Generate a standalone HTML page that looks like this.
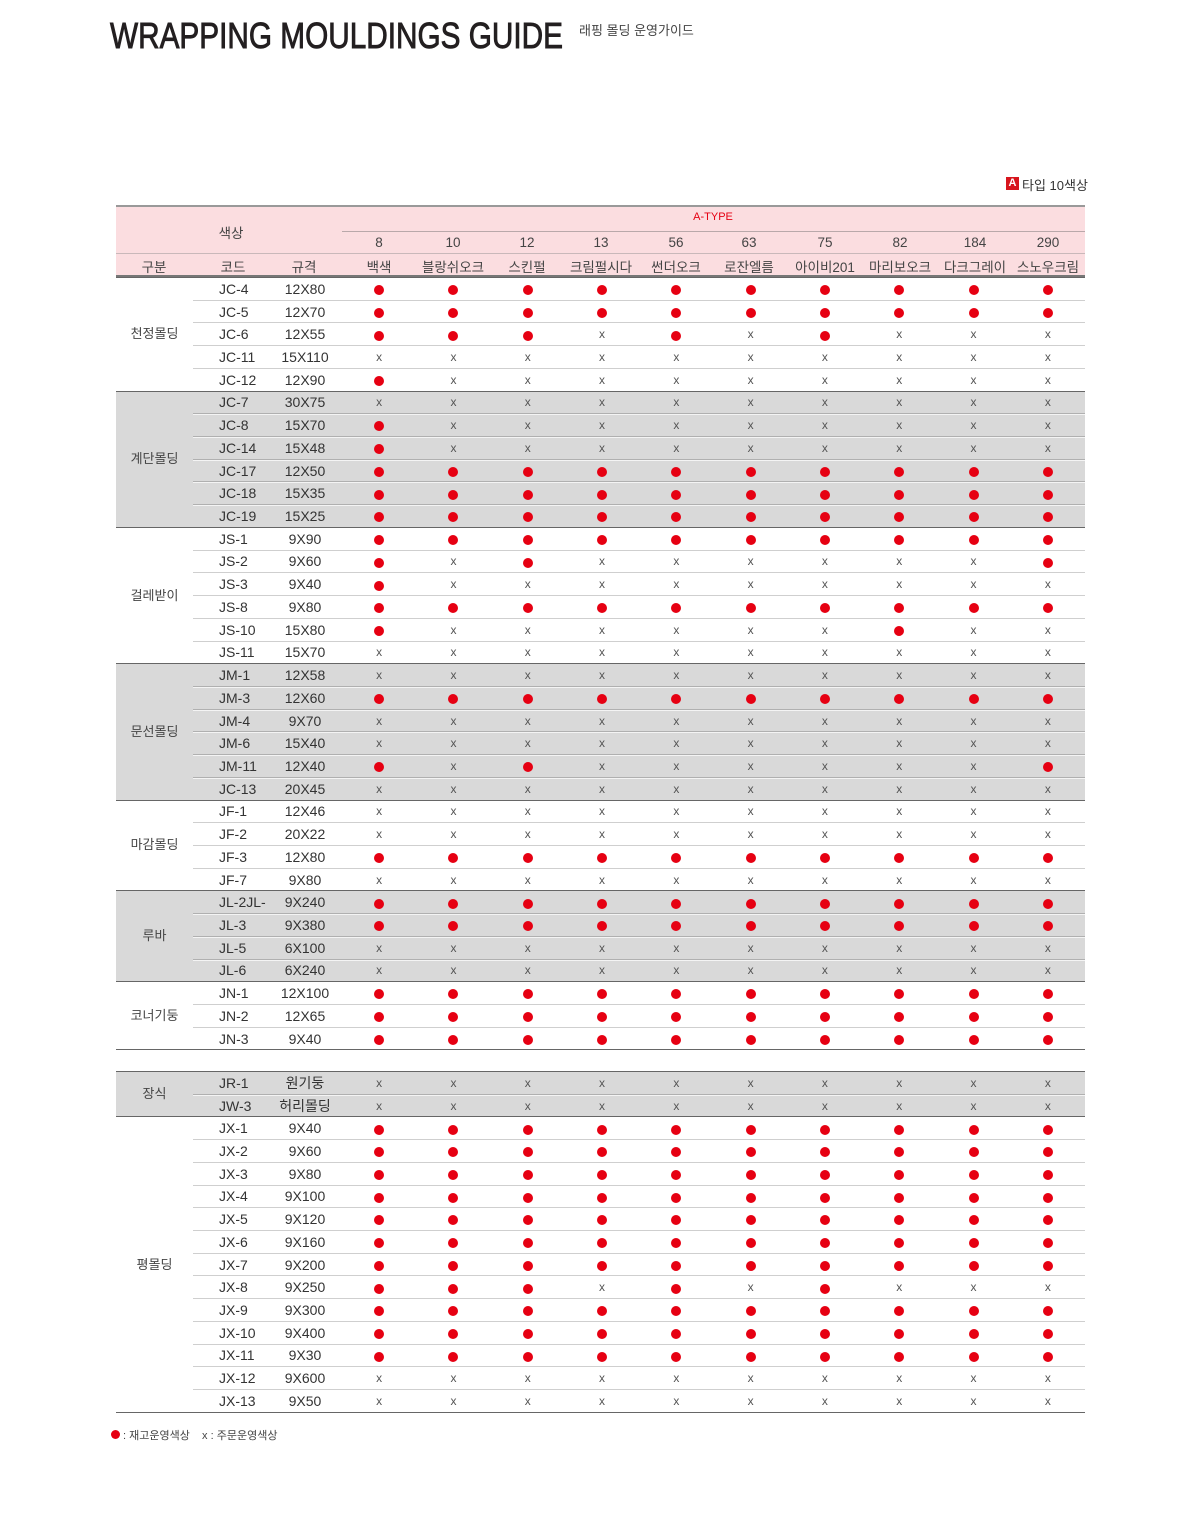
<!DOCTYPE html>
<html><head><meta charset="utf-8"><style>
*{margin:0;padding:0;box-sizing:border-box}
body{width:1200px;height:1513px;background:#fff;position:relative;font-family:"Liberation Sans","Noto Sans CJK KR",sans-serif;color:#333;overflow:hidden}
.a{position:absolute;white-space:nowrap}
.hd{position:absolute;left:116px;top:205px;width:969px;height:72px;background:#fbdde0;border-top:2px solid #999;border-bottom:2px solid #777}
.c{position:absolute;transform:translateX(-50%);font-size:13px;color:#444;white-space:nowrap}
.l{font-size:13.5px}
table{position:absolute;left:116px;width:969px;border-collapse:collapse;table-layout:fixed;font-size:14px}
td{height:22.73px;text-align:center;padding:0;border-top:1.5px solid #cfcfcf;color:#333;vertical-align:middle;line-height:14px}
td.gr{border-top:none;color:#444;font-size:13px}
tbody{border-top:1.5px solid #666}
tbody.g td{background:#d9d9d9;border-top:1.5px solid #b0b0b0;box-shadow:inset 0 1px 0 #f4f4f4}
tbody.g td.gr{border-top:none;box-shadow:none}
tbody tr:first-child td{border-top:none;box-shadow:none}
td.k{text-align:left;padding-left:26px}
td.x{font-size:12px;color:#555}
td.o::before{content:"";display:inline-block;width:10px;height:10px;border-radius:50%;background:#e60012;vertical-align:middle}
table.t1 tbody:last-child{border-bottom:1.5px solid #666}
table.t2 tbody:last-child{border-bottom:1.5px solid #666}
</style></head><body>
<svg class="a" style="left:0;top:0" width="760" height="60"><text x="110" y="48" font-family="Liberation Sans" font-size="36" fill="#231f20" stroke="#231f20" stroke-width="0.9" textLength="453" lengthAdjust="spacingAndGlyphs">WRAPPING MOULDINGS GUIDE</text></svg>
<div class="a" style="left:579px;top:20px;font-size:13px;color:#444">래핑 몰딩 운영가이드</div>
<div class="a" style="left:1006px;top:177px;width:13px;height:13px;background:#d7151d;color:#fff;font-size:11px;font-weight:bold;text-align:center;line-height:13px">A</div>
<div class="a" style="left:1022px;top:175px;font-size:13px;color:#333">타입 10색상</div>
<div class="hd"></div>
<div class="a" style="left:342px;top:231px;width:743px;height:1px;background:#b9a8aa"></div>
<div class="a" style="left:116px;top:253px;width:969px;height:1px;background:#c9b8ba"></div>
<div class="c l" style="left:231px;top:222px">색상</div>
<div class="c" style="left:713px;top:211px;color:#e60012;font-size:11px">A-TYPE</div>
<div class="c l" style="left:154px;top:256px">구분</div>
<div class="c l" style="left:233px;top:256px">코드</div>
<div class="c l" style="left:304px;top:256px">규격</div>
<div class="c l" style="left:379px;top:235px">8</div><div class="c l" style="left:379px;top:256px">백색</div>
<div class="c l" style="left:453px;top:235px">10</div><div class="c l" style="left:453px;top:256px">블랑쉬오크</div>
<div class="c l" style="left:527px;top:235px">12</div><div class="c l" style="left:527px;top:256px">스킨펄</div>
<div class="c l" style="left:601px;top:235px">13</div><div class="c l" style="left:601px;top:256px">크림펄시다</div>
<div class="c l" style="left:676px;top:235px">56</div><div class="c l" style="left:676px;top:256px">썬더오크</div>
<div class="c l" style="left:749px;top:235px">63</div><div class="c l" style="left:749px;top:256px">로잔엘름</div>
<div class="c l" style="left:825px;top:235px">75</div><div class="c l" style="left:825px;top:256px">아이비201</div>
<div class="c l" style="left:900px;top:235px">82</div><div class="c l" style="left:900px;top:256px">마리보오크</div>
<div class="c l" style="left:975px;top:235px">184</div><div class="c l" style="left:975px;top:256px">다크그레이</div>
<div class="c l" style="left:1048px;top:235px">290</div><div class="c l" style="left:1048px;top:256px">스노우크림</div>

<table class="t1" style="top:277px">
<colgroup><col style="width:77px"><col style="width:75px"><col style="width:74px"><col span="10" style="width:74.3px"></colgroup>
<tbody>
<tr><td class="gr" rowspan="5">천정몰딩</td><td class="k">JC-4</td><td>12X80</td><td class="o"></td><td class="o"></td><td class="o"></td><td class="o"></td><td class="o"></td><td class="o"></td><td class="o"></td><td class="o"></td><td class="o"></td><td class="o"></td></tr>
<tr><td class="k">JC-5</td><td>12X70</td><td class="o"></td><td class="o"></td><td class="o"></td><td class="o"></td><td class="o"></td><td class="o"></td><td class="o"></td><td class="o"></td><td class="o"></td><td class="o"></td></tr>
<tr><td class="k">JC-6</td><td>12X55</td><td class="o"></td><td class="o"></td><td class="o"></td><td class="x">x</td><td class="o"></td><td class="x">x</td><td class="o"></td><td class="x">x</td><td class="x">x</td><td class="x">x</td></tr>
<tr><td class="k">JC-11</td><td>15X110</td><td class="x">x</td><td class="x">x</td><td class="x">x</td><td class="x">x</td><td class="x">x</td><td class="x">x</td><td class="x">x</td><td class="x">x</td><td class="x">x</td><td class="x">x</td></tr>
<tr><td class="k">JC-12</td><td>12X90</td><td class="o"></td><td class="x">x</td><td class="x">x</td><td class="x">x</td><td class="x">x</td><td class="x">x</td><td class="x">x</td><td class="x">x</td><td class="x">x</td><td class="x">x</td></tr>
</tbody>
<tbody class="g">
<tr><td class="gr" rowspan="6">계단몰딩</td><td class="k">JC-7</td><td>30X75</td><td class="x">x</td><td class="x">x</td><td class="x">x</td><td class="x">x</td><td class="x">x</td><td class="x">x</td><td class="x">x</td><td class="x">x</td><td class="x">x</td><td class="x">x</td></tr>
<tr><td class="k">JC-8</td><td>15X70</td><td class="o"></td><td class="x">x</td><td class="x">x</td><td class="x">x</td><td class="x">x</td><td class="x">x</td><td class="x">x</td><td class="x">x</td><td class="x">x</td><td class="x">x</td></tr>
<tr><td class="k">JC-14</td><td>15X48</td><td class="o"></td><td class="x">x</td><td class="x">x</td><td class="x">x</td><td class="x">x</td><td class="x">x</td><td class="x">x</td><td class="x">x</td><td class="x">x</td><td class="x">x</td></tr>
<tr><td class="k">JC-17</td><td>12X50</td><td class="o"></td><td class="o"></td><td class="o"></td><td class="o"></td><td class="o"></td><td class="o"></td><td class="o"></td><td class="o"></td><td class="o"></td><td class="o"></td></tr>
<tr><td class="k">JC-18</td><td>15X35</td><td class="o"></td><td class="o"></td><td class="o"></td><td class="o"></td><td class="o"></td><td class="o"></td><td class="o"></td><td class="o"></td><td class="o"></td><td class="o"></td></tr>
<tr><td class="k">JC-19</td><td>15X25</td><td class="o"></td><td class="o"></td><td class="o"></td><td class="o"></td><td class="o"></td><td class="o"></td><td class="o"></td><td class="o"></td><td class="o"></td><td class="o"></td></tr>
</tbody>
<tbody>
<tr><td class="gr" rowspan="6">걸레받이</td><td class="k">JS-1</td><td>9X90</td><td class="o"></td><td class="o"></td><td class="o"></td><td class="o"></td><td class="o"></td><td class="o"></td><td class="o"></td><td class="o"></td><td class="o"></td><td class="o"></td></tr>
<tr><td class="k">JS-2</td><td>9X60</td><td class="o"></td><td class="x">x</td><td class="o"></td><td class="x">x</td><td class="x">x</td><td class="x">x</td><td class="x">x</td><td class="x">x</td><td class="x">x</td><td class="o"></td></tr>
<tr><td class="k">JS-3</td><td>9X40</td><td class="o"></td><td class="x">x</td><td class="x">x</td><td class="x">x</td><td class="x">x</td><td class="x">x</td><td class="x">x</td><td class="x">x</td><td class="x">x</td><td class="x">x</td></tr>
<tr><td class="k">JS-8</td><td>9X80</td><td class="o"></td><td class="o"></td><td class="o"></td><td class="o"></td><td class="o"></td><td class="o"></td><td class="o"></td><td class="o"></td><td class="o"></td><td class="o"></td></tr>
<tr><td class="k">JS-10</td><td>15X80</td><td class="o"></td><td class="x">x</td><td class="x">x</td><td class="x">x</td><td class="x">x</td><td class="x">x</td><td class="x">x</td><td class="o"></td><td class="x">x</td><td class="x">x</td></tr>
<tr><td class="k">JS-11</td><td>15X70</td><td class="x">x</td><td class="x">x</td><td class="x">x</td><td class="x">x</td><td class="x">x</td><td class="x">x</td><td class="x">x</td><td class="x">x</td><td class="x">x</td><td class="x">x</td></tr>
</tbody>
<tbody class="g">
<tr><td class="gr" rowspan="6">문선몰딩</td><td class="k">JM-1</td><td>12X58</td><td class="x">x</td><td class="x">x</td><td class="x">x</td><td class="x">x</td><td class="x">x</td><td class="x">x</td><td class="x">x</td><td class="x">x</td><td class="x">x</td><td class="x">x</td></tr>
<tr><td class="k">JM-3</td><td>12X60</td><td class="o"></td><td class="o"></td><td class="o"></td><td class="o"></td><td class="o"></td><td class="o"></td><td class="o"></td><td class="o"></td><td class="o"></td><td class="o"></td></tr>
<tr><td class="k">JM-4</td><td>9X70</td><td class="x">x</td><td class="x">x</td><td class="x">x</td><td class="x">x</td><td class="x">x</td><td class="x">x</td><td class="x">x</td><td class="x">x</td><td class="x">x</td><td class="x">x</td></tr>
<tr><td class="k">JM-6</td><td>15X40</td><td class="x">x</td><td class="x">x</td><td class="x">x</td><td class="x">x</td><td class="x">x</td><td class="x">x</td><td class="x">x</td><td class="x">x</td><td class="x">x</td><td class="x">x</td></tr>
<tr><td class="k">JM-11</td><td>12X40</td><td class="o"></td><td class="x">x</td><td class="o"></td><td class="x">x</td><td class="x">x</td><td class="x">x</td><td class="x">x</td><td class="x">x</td><td class="x">x</td><td class="o"></td></tr>
<tr><td class="k">JC-13</td><td>20X45</td><td class="x">x</td><td class="x">x</td><td class="x">x</td><td class="x">x</td><td class="x">x</td><td class="x">x</td><td class="x">x</td><td class="x">x</td><td class="x">x</td><td class="x">x</td></tr>
</tbody>
<tbody>
<tr><td class="gr" rowspan="4">마감몰딩</td><td class="k">JF-1</td><td>12X46</td><td class="x">x</td><td class="x">x</td><td class="x">x</td><td class="x">x</td><td class="x">x</td><td class="x">x</td><td class="x">x</td><td class="x">x</td><td class="x">x</td><td class="x">x</td></tr>
<tr><td class="k">JF-2</td><td>20X22</td><td class="x">x</td><td class="x">x</td><td class="x">x</td><td class="x">x</td><td class="x">x</td><td class="x">x</td><td class="x">x</td><td class="x">x</td><td class="x">x</td><td class="x">x</td></tr>
<tr><td class="k">JF-3</td><td>12X80</td><td class="o"></td><td class="o"></td><td class="o"></td><td class="o"></td><td class="o"></td><td class="o"></td><td class="o"></td><td class="o"></td><td class="o"></td><td class="o"></td></tr>
<tr><td class="k">JF-7</td><td>9X80</td><td class="x">x</td><td class="x">x</td><td class="x">x</td><td class="x">x</td><td class="x">x</td><td class="x">x</td><td class="x">x</td><td class="x">x</td><td class="x">x</td><td class="x">x</td></tr>
</tbody>
<tbody class="g">
<tr><td class="gr" rowspan="4">루바</td><td class="k">JL-2JL-</td><td>9X240</td><td class="o"></td><td class="o"></td><td class="o"></td><td class="o"></td><td class="o"></td><td class="o"></td><td class="o"></td><td class="o"></td><td class="o"></td><td class="o"></td></tr>
<tr><td class="k">JL-3</td><td>9X380</td><td class="o"></td><td class="o"></td><td class="o"></td><td class="o"></td><td class="o"></td><td class="o"></td><td class="o"></td><td class="o"></td><td class="o"></td><td class="o"></td></tr>
<tr><td class="k">JL-5</td><td>6X100</td><td class="x">x</td><td class="x">x</td><td class="x">x</td><td class="x">x</td><td class="x">x</td><td class="x">x</td><td class="x">x</td><td class="x">x</td><td class="x">x</td><td class="x">x</td></tr>
<tr><td class="k">JL-6</td><td>6X240</td><td class="x">x</td><td class="x">x</td><td class="x">x</td><td class="x">x</td><td class="x">x</td><td class="x">x</td><td class="x">x</td><td class="x">x</td><td class="x">x</td><td class="x">x</td></tr>
</tbody>
<tbody>
<tr><td class="gr" rowspan="3">코너기둥</td><td class="k">JN-1</td><td>12X100</td><td class="o"></td><td class="o"></td><td class="o"></td><td class="o"></td><td class="o"></td><td class="o"></td><td class="o"></td><td class="o"></td><td class="o"></td><td class="o"></td></tr>
<tr><td class="k">JN-2</td><td>12X65</td><td class="o"></td><td class="o"></td><td class="o"></td><td class="o"></td><td class="o"></td><td class="o"></td><td class="o"></td><td class="o"></td><td class="o"></td><td class="o"></td></tr>
<tr><td class="k">JN-3</td><td>9X40</td><td class="o"></td><td class="o"></td><td class="o"></td><td class="o"></td><td class="o"></td><td class="o"></td><td class="o"></td><td class="o"></td><td class="o"></td><td class="o"></td></tr>
</tbody>
</table>

<table class="t2" style="top:1071px">
<colgroup><col style="width:77px"><col style="width:75px"><col style="width:74px"><col span="10" style="width:74.3px"></colgroup>
<tbody class="g">
<tr><td class="gr" rowspan="2">장식</td><td class="k">JR-1</td><td>원기둥</td><td class="x">x</td><td class="x">x</td><td class="x">x</td><td class="x">x</td><td class="x">x</td><td class="x">x</td><td class="x">x</td><td class="x">x</td><td class="x">x</td><td class="x">x</td></tr>
<tr><td class="k">JW-3</td><td>허리몰딩</td><td class="x">x</td><td class="x">x</td><td class="x">x</td><td class="x">x</td><td class="x">x</td><td class="x">x</td><td class="x">x</td><td class="x">x</td><td class="x">x</td><td class="x">x</td></tr>
</tbody>
<tbody>
<tr><td class="gr" rowspan="13">평몰딩</td><td class="k">JX-1</td><td>9X40</td><td class="o"></td><td class="o"></td><td class="o"></td><td class="o"></td><td class="o"></td><td class="o"></td><td class="o"></td><td class="o"></td><td class="o"></td><td class="o"></td></tr>
<tr><td class="k">JX-2</td><td>9X60</td><td class="o"></td><td class="o"></td><td class="o"></td><td class="o"></td><td class="o"></td><td class="o"></td><td class="o"></td><td class="o"></td><td class="o"></td><td class="o"></td></tr>
<tr><td class="k">JX-3</td><td>9X80</td><td class="o"></td><td class="o"></td><td class="o"></td><td class="o"></td><td class="o"></td><td class="o"></td><td class="o"></td><td class="o"></td><td class="o"></td><td class="o"></td></tr>
<tr><td class="k">JX-4</td><td>9X100</td><td class="o"></td><td class="o"></td><td class="o"></td><td class="o"></td><td class="o"></td><td class="o"></td><td class="o"></td><td class="o"></td><td class="o"></td><td class="o"></td></tr>
<tr><td class="k">JX-5</td><td>9X120</td><td class="o"></td><td class="o"></td><td class="o"></td><td class="o"></td><td class="o"></td><td class="o"></td><td class="o"></td><td class="o"></td><td class="o"></td><td class="o"></td></tr>
<tr><td class="k">JX-6</td><td>9X160</td><td class="o"></td><td class="o"></td><td class="o"></td><td class="o"></td><td class="o"></td><td class="o"></td><td class="o"></td><td class="o"></td><td class="o"></td><td class="o"></td></tr>
<tr><td class="k">JX-7</td><td>9X200</td><td class="o"></td><td class="o"></td><td class="o"></td><td class="o"></td><td class="o"></td><td class="o"></td><td class="o"></td><td class="o"></td><td class="o"></td><td class="o"></td></tr>
<tr><td class="k">JX-8</td><td>9X250</td><td class="o"></td><td class="o"></td><td class="o"></td><td class="x">x</td><td class="o"></td><td class="x">x</td><td class="o"></td><td class="x">x</td><td class="x">x</td><td class="x">x</td></tr>
<tr><td class="k">JX-9</td><td>9X300</td><td class="o"></td><td class="o"></td><td class="o"></td><td class="o"></td><td class="o"></td><td class="o"></td><td class="o"></td><td class="o"></td><td class="o"></td><td class="o"></td></tr>
<tr><td class="k">JX-10</td><td>9X400</td><td class="o"></td><td class="o"></td><td class="o"></td><td class="o"></td><td class="o"></td><td class="o"></td><td class="o"></td><td class="o"></td><td class="o"></td><td class="o"></td></tr>
<tr><td class="k">JX-11</td><td>9X30</td><td class="o"></td><td class="o"></td><td class="o"></td><td class="o"></td><td class="o"></td><td class="o"></td><td class="o"></td><td class="o"></td><td class="o"></td><td class="o"></td></tr>
<tr><td class="k">JX-12</td><td>9X600</td><td class="x">x</td><td class="x">x</td><td class="x">x</td><td class="x">x</td><td class="x">x</td><td class="x">x</td><td class="x">x</td><td class="x">x</td><td class="x">x</td><td class="x">x</td></tr>
<tr><td class="k">JX-13</td><td>9X50</td><td class="x">x</td><td class="x">x</td><td class="x">x</td><td class="x">x</td><td class="x">x</td><td class="x">x</td><td class="x">x</td><td class="x">x</td><td class="x">x</td><td class="x">x</td></tr>
</tbody>
</table>

<div class="a" style="left:111px;top:1430px;width:9px;height:9px;border-radius:50%;background:#e60012"></div>
<div class="a" style="left:123px;top:1427px;font-size:11px;color:#444">: 재고운영색상 &nbsp;&nbsp;&nbsp;x : 주문운영색상</div>
</body></html>
